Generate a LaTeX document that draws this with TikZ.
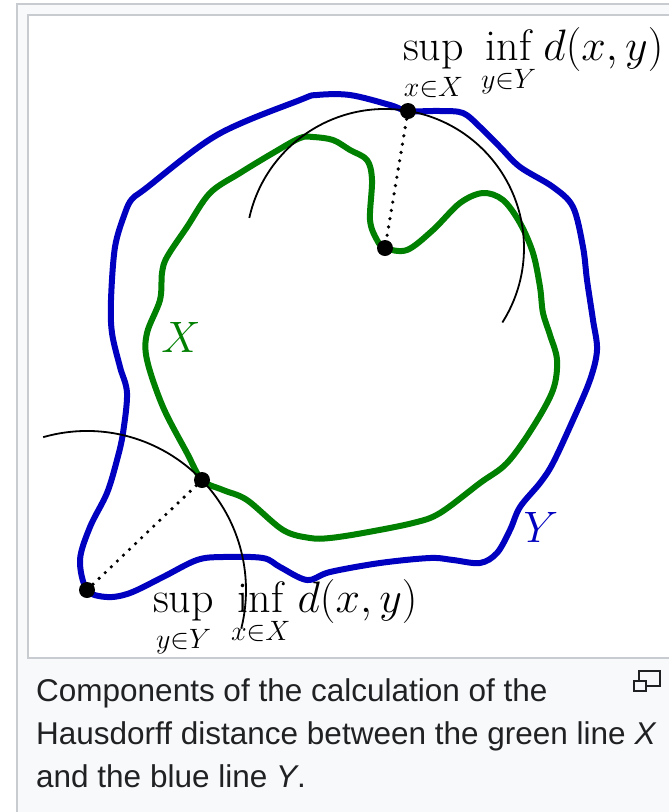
\RequirePackage{fix-cm}
\documentclass[tikz,border=0pt]{standalone}
\usepackage{amsmath}
\usepackage{fontspec}
\newfontfamily\capfont{Liberation Sans}
\definecolor{yblue}{RGB}{0,0,192}
\definecolor{xgreen}{RGB}{0,128,0}
\definecolor{frameg}{RGB}{200,204,209}
\definecolor{capbg}{RGB}{248,249,250}
\definecolor{captext}{RGB}{32,33,34}
\newcommand{\limtxt}[1]{\mbox{\fontsize{28}{28}\selectfont\rule{0pt}{24pt}$#1$}}
\begin{document}
\begin{tikzpicture}[x=1pt,y=-1pt,
  curveY/.style={draw=yblue, line width=6pt, line join=round},
  curveX/.style={draw=xgreen, line width=6pt, line join=round},
  arcline/.style={draw=black, line width=1.8pt},
  distline/.style={draw=black, line width=3.6pt, line cap=round, dash pattern=on 0pt off 8.4pt},
  pt/.style={circle, fill=black, inner sep=0pt, minimum size=16pt},
  mathlbl/.style={inner sep=0pt, font=\fontsize{44}{50}\selectfont},
  caplbl/.style={inner sep=0pt, anchor=base west, text=captext, font=\capfont\fontsize{31.5}{43}\selectfont},
  framebox/.style={draw=frameg, line width=2pt}
]
\useasboundingbox (0,0) rectangle (669,812);
\clip (0,0) rectangle (669,812);
\path[framebox, fill=capbg] (17,4) rectangle (700,840);
\path[framebox, fill=white] (28,15) rectangle (700,658);

% blue line Y
\path[curveY] plot[smooth cycle, tension=0.55] coordinates {
(408,111) (440,111) (463,113) (480,127) (500,147) (520,167) (553,187) (573,207)
(583,247) (587,280) (593,320) (597,350) (590,380) (573,420) (553,463) (540,483)
(520,507) (510,530) (497,553) (480,563) (453,560) (430,558) (380,563) (330,572)
(307,580) (280,567) (263,558) (223,557) (197,560) (163,577) (130,593) (107,597)
(87,590) (80,560) (90,527) (107,493) (117,460) (123,433) (127,393) (120,367)
(112,333) (111,300) (115,247) (125,213) (132,199) (145,189) (217,135) (300,100)
(317,95) (350,95) (390,105)};

% green line X
\path[curveX] plot[smooth cycle, tension=0.55] coordinates {
(385,248) (407,250) (433,230) (460,203) (483,193) (503,200) (520,223) (533,253)
(540,287) (543,313) (550,335) (557,360) (553,390) (533,427) (507,463) (480,483)
(440,513) (413,523) (363,533) (330,538) (310,538) (283,530) (247,500) (223,490)
(202,480) (187,453) (163,407) (147,360) (147,333) (160,300) (162,273) (167,257)
(187,227) (210,193) (240,173) (273,153) (300,138) (313,137) (333,140) (350,150)
(367,160) (372,180) (370,220) (377,240)};

% points
\node[pt] (ytop) at (408,111) {};
\node[pt] (xin) at (385,248) {};
\node[pt] (xleft) at (202,480) {};
\node[pt] (yleft) at (87,590) {};

% arcs
\path[arcline] (xin.center) ++(-167.5:139) arc[start angle=-167.5, end angle=32.4, radius=139];
\path[arcline] (yleft.center) ++(-106:159) arc[start angle=-106, end angle=14, radius=159];

% dotted distances
\path[distline] (ytop.center) -- (xin.center);
\path[distline] (yleft.center) -- (xleft.center);

% labels
\node[mathlbl, anchor=base west] (toplbl) at (403,60) {$\displaystyle\sup_{\limtxt{x{\in}X}}\:\inf_{\limtxt{y{\in}Y}} d(x,y)$};
\node[mathlbl, anchor=base west] (botlbl) at (153,612) {$\displaystyle\sup_{\limtxt{y{\in}Y}}\:\inf_{\limtxt{x{\in}X}} d(x,y)$};
\node[mathlbl, text=xgreen] (lblX) at (181,337) {$X$};
\node[mathlbl, text=yblue] (lblY) at (541,527) {$Y$};

% caption
\node[caplbl] (cap1) at (36,701) {Components of the calculation of the};
\node[caplbl] (cap2) at (36,744) {Hausdorff distance between the green line \textit{X}};
\node[caplbl] (cap3) at (36,787) {and the blue line \textit{Y}.};

% enlarge icon
\path[draw=captext, line width=2pt] (639,671) rectangle (660,686);
\path[draw=captext, fill=capbg, line width=2pt] (634,681) rectangle (646,691);
\end{tikzpicture}
\end{document}
